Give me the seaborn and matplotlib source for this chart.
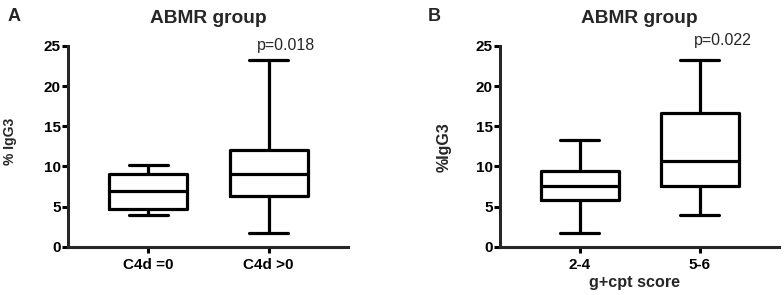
import pandas as pd
import seaborn as sns
from matplotlib import pyplot as plt

# five-number summaries: min, Q1, median, Q3, max
c4d_groups = ["C4d =0", "C4d >0"]
c4d_zero = [4.0, 4.7, 7.0, 9.0, 10.2]
c4d_pos = [1.7, 6.35, 9.0, 12.1, 23.2]

score_groups = ["2-4", "5-6"]
score_low = [1.7, 5.8, 7.6, 9.4, 13.3]
score_high = [4.0, 7.6, 10.7, 16.6, 23.2]

y_ticks = [0, 5, 10, 15, 20, 25]
p_values = ["p=0.018", "p=0.022"]

sns.set_style("ticks")
plt.rcParams["font.family"] = ["Liberation Sans", "DejaVu Sans"]
plt.rcParams["axes.linewidth"] = 2.2
plt.rcParams["xtick.major.width"] = 2.2
plt.rcParams["ytick.major.width"] = 2.2
plt.rcParams["xtick.major.size"] = 4.3
plt.rcParams["ytick.major.size"] = 4.3


def long_table(groups, values):
    rows = []
    for g, vals in zip(groups, values):
        for v in vals:
            rows.append({"group": g, "value": v})
    return pd.DataFrame(rows)


def draw_panel(ax, df, order, ylabel, ylab_size, p_text, p_pos, letter, letter_x):
    sns.boxplot(data=df, x="group", y="value", order=order, ax=ax,
                whis=(0, 100), width=0.65, fill=False, color="black",
                linecolor="black", linewidth=2.3, showfliers=False)
    ax.set_ylim(0, 25)
    ax.set_yticks(y_ticks)
    ax.set_xlim(-0.67, 1.66)
    sns.despine(ax=ax)
    ax.tick_params(axis="both", labelsize=11, colors="black")
    ax.tick_params(axis="y", pad=0.8)
    ax.tick_params(axis="x", pad=3.5)
    for lab in ax.get_xticklabels() + ax.get_yticklabels():
        lab.set_fontweight("bold")
    ax.text(0.5, 1.116, "ABMR group", transform=ax.transAxes, ha="center",
            va="baseline", fontsize=13.8, fontweight="bold")
    ax.set_ylabel(ylabel, fontsize=ylab_size, fontweight="bold")
    ax.yaxis.label.set_va("center")
    ax.set_xlabel("")
    ax.text(p_pos[0], p_pos[1], p_text, ha="center", va="baseline", fontsize=11.5)
    ax.figure.text(letter_x, 0.945, letter, fontsize=13, fontweight="bold",
                   ha="left", va="center")


fig = plt.figure(figsize=(7.84, 2.95), dpi=100)
ax1 = fig.add_axes([0.0864, 0.1637, 0.3575, 0.6804])
ax2 = fig.add_axes([0.6374, 0.1637, 0.3558, 0.6804])

df_a = long_table(c4d_groups, [c4d_zero, c4d_pos])
df_b = long_table(score_groups, [score_low, score_high])

draw_panel(ax1, df_a, c4d_groups, "% IgG3", 10, p_values[0], (1.144, 24.5), "A", 0.009)
draw_panel(ax2, df_b, score_groups, "%IgG3", 11.5, p_values[1], (1.19, 25.1), "B", 0.545)

ax2.set_xlabel("g+cpt score", fontsize=11.6, fontweight="bold")
ax2.xaxis.label.set_va("baseline")
ax2.xaxis.set_label_coords(0.483, -0.2)

ax1.yaxis.set_label_coords(-0.206, 0.527)
ax2.yaxis.set_label_coords(-0.2, 0.497)

plt.savefig("out.png", dpi=100)
plt.close()
